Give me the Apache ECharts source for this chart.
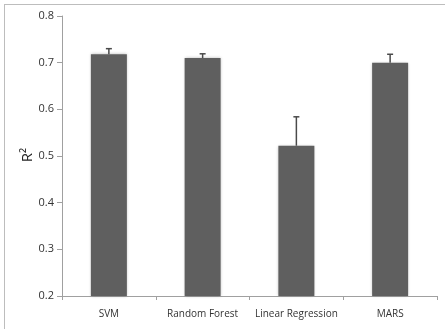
<!DOCTYPE html>
<html>
<head>
<meta charset="utf-8">
<script src="https://cdn.jsdelivr.net/npm/echarts@6/dist/echarts.min.js"></script>
<style>
  html, body { margin: 0; padding: 0; background: #fff; }
  #frame { position: absolute; left: 4px; top: 4px; width: 460px; height: 340px; border: 1.5px solid #bdbdbd; }
  #chart { position: absolute; left: 0; top: 0; width: 445px; height: 329px; }
</style>
</head>
<body>
<div id="frame"></div>
<div id="chart"></div>
<script>
// 分类与数值
var categories = ['SVM', 'Random Forest', 'Linear Regression', 'MARS'];
var r2Values = [0.718, 0.710, 0.522, 0.700];
var errorTops = [0.730, 0.719, 0.584, 0.718];
var yTicks = [0.2, 0.3, 0.4, 0.5, 0.6, 0.7, 0.8];

var chart = echarts.init(document.getElementById('chart'));

// 误差线数据: [索引, 柱顶, 误差上限]
var errData = categories.map(function (c, i) {
    return [i, r2Values[i], errorTops[i]];
});

var option = {
    animation: false,
    textStyle: { fontFamily: 'Open Sans' },
    grid: { left: 62, right: 8, top: 16, bottom: 33 },
    // 纵轴标题
    graphic: [{
        type: 'text',
        x: 28,
        y: 155,
        rotation: Math.PI / 2,
        style: {
            text: 'R\u00b2',
            fontSize: 15,
            fontFamily: 'Open Sans',
            fill: '#222',
            align: 'center',
            verticalAlign: 'middle'
        }
    }],
    xAxis: {
        type: 'category',
        data: categories,
        axisLine: { lineStyle: { color: '#a0a0a0', width: 1 } },
        axisTick: { show: true, length: 4, lineStyle: { color: '#a0a0a0' } },
        axisLabel: { color: '#333', fontSize: 10, margin: 13, interval: 0 }
    },
    yAxis: {
        type: 'value',
        min: yTicks[0],
        max: yTicks[yTicks.length - 1],
        interval: 0.1,
        axisLine: { show: true, lineStyle: { color: '#a0a0a0', width: 1 } },
        axisTick: { show: true, length: 5, lineStyle: { color: '#a0a0a0' } },
        axisLabel: {
            color: '#333', fontSize: 11, margin: 8,
            formatter: function (v) { return v.toFixed(1); }
        },
        splitLine: { show: false }
    },
    series: [{
        type: 'bar',
        data: r2Values,
        barWidth: 36,
        itemStyle: {
            color: '#5f5f5f',
            shadowColor: 'rgba(0,0,0,0.28)',
            shadowBlur: 3
        }
    }, {
        type: 'custom',
        data: errData,
        z: 10,
        renderItem: function (params, api) {
            var base = api.coord([api.value(0), api.value(1)]);
            var top = api.coord([api.value(0), api.value(2)]);
            var style = { stroke: '#4a4a4a', lineWidth: 1.5 };
            return {
                type: 'group',
                children: [{
                    type: 'line',
                    shape: { x1: base[0], y1: base[1], x2: top[0], y2: top[1] },
                    style: style
                }, {
                    type: 'line',
                    shape: { x1: top[0] - 3, y1: top[1], x2: top[0] + 3, y2: top[1] },
                    style: style
                }]
            };
        }
    }]
};
chart.setOption(option);
</script>
</body>
</html>
